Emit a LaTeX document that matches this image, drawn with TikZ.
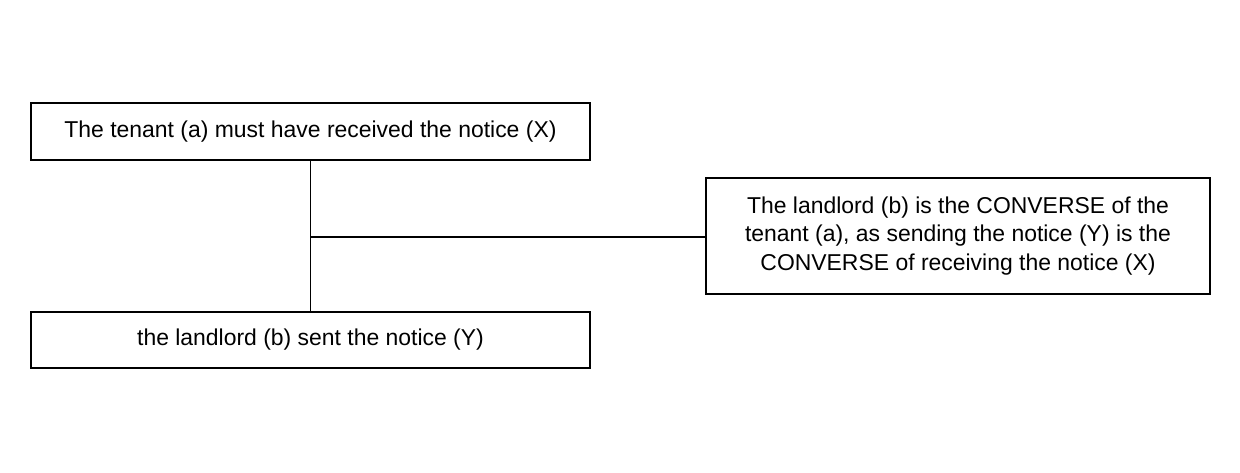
\documentclass[tikz,border=0pt]{standalone}
\usepackage{fontspec}
\setmainfont{Liberation Sans}
\begin{document}
\begin{tikzpicture}[x=0.75pt, y=-0.75pt,
    box/.style={draw, line width=0.9pt, inner sep=0pt, align=center,
        font=\fontsize{17.2}{21.5}\selectfont}]
        \useasboundingbox (0,0) rectangle (1240,473);
        % Nodes
        \node[box, minimum width=559*0.75pt, minimum height=57*0.75pt] at (310.5, 131.5) (tenant) {The tenant (a) must have received the notice (X)};
        \node[box, minimum width=559*0.75pt, minimum height=56*0.75pt] at (310.5, 340)   (landlord) {the landlord (b) sent the notice (Y)};
        \node[box, minimum width=504*0.75pt, minimum height=116*0.75pt] at (958, 236)    (converse) {The landlord (b) is the CONVERSE of the\\tenant (a), as sending the notice (Y) is the\\CONVERSE of receiving the notice (X)};
        \coordinate (joint) at (310.5, 237);

        \draw[line width=0.9pt]  (tenant) -- (landlord);
        \draw[line width=0.9pt]  (joint) -- (converse.west |- joint);
    \end{tikzpicture}
\end{document}
